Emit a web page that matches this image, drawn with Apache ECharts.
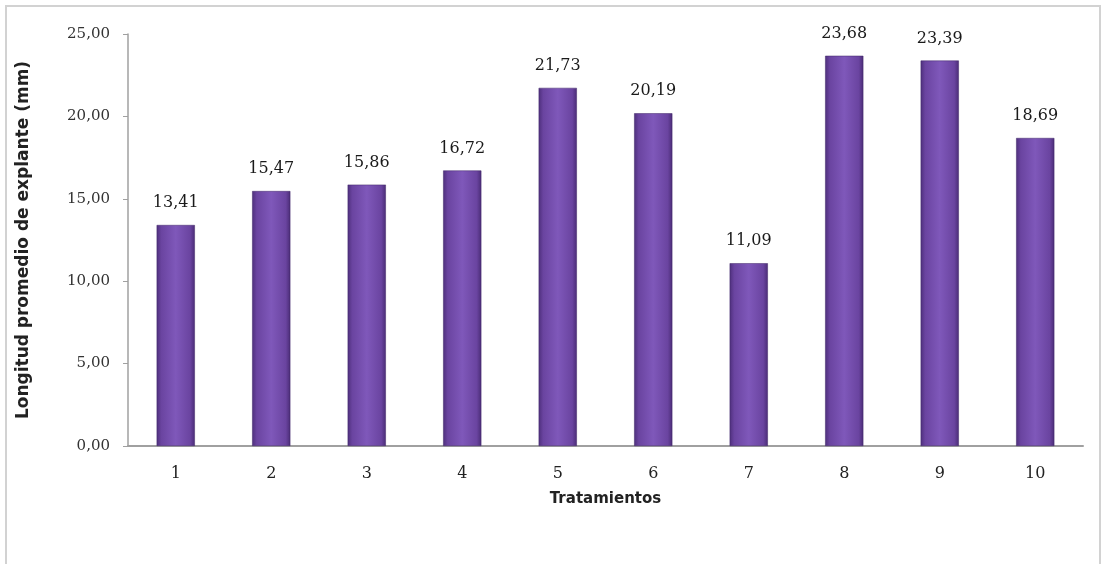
<!DOCTYPE html>
<html>
<head>
<meta charset="utf-8">
<style>html,body{margin:0;padding:0;background:#fff;}#c{width:1102px;height:564px;}</style>
<script src="https://cdn.jsdelivr.net/npm/echarts@6/dist/echarts.min.js"></script>
</head>
<body>
<div id="c"></div>
<script>
var categories = ['1','2','3','4','5','6','7','8','9','10'];
var values = [13.41, 15.47, 15.86, 16.72, 21.73, 20.19, 11.09, 23.68, 23.39, 18.69];
var yTicks = [0, 5, 10, 15, 20, 25];

function fmt(v){ return v.toFixed(2).replace('.', ','); }

var numFont = 'DejaVu Serif, Liberation Serif, serif';
var chart = echarts.init(document.getElementById('c'), null, {renderer:'canvas'});
var barColor = new echarts.graphic.LinearGradient(0,0,1,0,[
  {offset:0, color:'#4e2f7c'},
  {offset:0.12, color:'#6a44a0'},
  {offset:0.5, color:'#7f58ba'},
  {offset:0.88, color:'#6a44a0'},
  {offset:1, color:'#4a2c76'}
]);
chart.setOption({
  animation:false,
  graphic:[{type:'rect', shape:{x:6,y:6,width:1094,height:570}, style:{fill:'none', stroke:'#d2d2d2', lineWidth:2}, z:-10}],
  grid:{left:128, right:19, top:34, bottom:118},
  xAxis:{
    type:'category', data:categories,
    name:'Tratamientos', nameLocation:'middle', nameGap:46,
    nameTextStyle:{fontFamily:'DejaVu Sans, sans-serif', fontWeight:'bold', fontSize:15, color:'#222'},
    axisLine:{lineStyle:{color:'#a0a0a0', width:2}},
    axisTick:{show:false},
    axisLabel:{fontFamily:numFont, fontSize:16, color:'#222', margin:20}
  },
  yAxis:{
    type:'value', min:0, max:25, interval:5,
    name:'Longitud promedio de explante (mm)', nameLocation:'middle', nameGap:96,
    nameTextStyle:{fontFamily:'DejaVu Sans, sans-serif', fontWeight:'bold', fontSize:17, color:'#222'},
    axisLine:{show:true, lineStyle:{color:'#a0a0a0', width:1.5}},
    axisTick:{show:true, length:5, lineStyle:{color:'#a0a0a0'}},
    splitLine:{show:false},
    axisLabel:{fontFamily:numFont, fontSize:15, color:'#333', margin:18,
      formatter:function(v){ return fmt(v); }}
  },
  series:[{
    type:'bar', data:values, barWidth:'40%',
    itemStyle:{color:barColor, borderColor:'#3f2566', borderWidth:0.5},
    label:{show:true, position:'top', distance:14, fontFamily:numFont, fontSize:16, color:'#1a1a1a',
      formatter:function(p){ return fmt(p.value); }}
  }]
});
</script>
</body>
</html>
